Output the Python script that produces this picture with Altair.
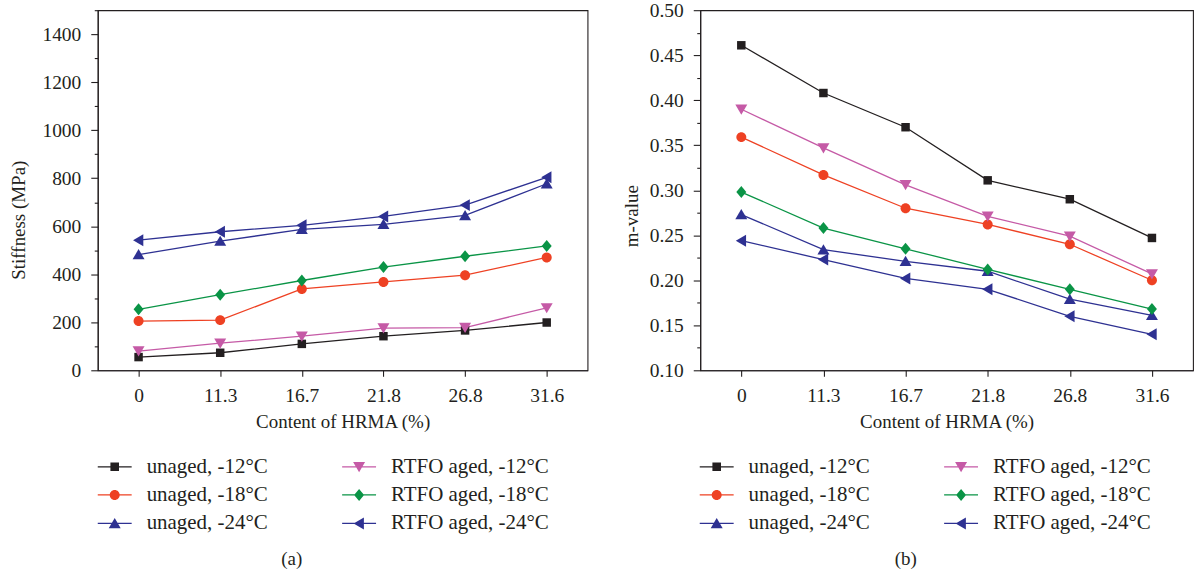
import altair as alt
import pandas as pd

hrma = ["0", "11.3", "16.7", "21.8", "26.8", "31.6"]
series = ["unaged, -12°C", "unaged, -18°C", "unaged, -24°C",
          "RTFO aged, -12°C", "RTFO aged, -18°C", "RTFO aged, -24°C"]
colors = ["#231f20", "#ee4123", "#2e3192", "#c55aa6", "#0a9446", "#2e3192"]

# Stiffness (MPa)
stiff_unaged_12 = [55, 73, 110, 142, 166, 199]
stiff_unaged_18 = [205, 209, 339, 368, 396, 470]
stiff_unaged_24 = [482, 538, 587, 608, 645, 777]
stiff_rtfo_12 = [80, 113, 142, 176, 178, 260]
stiff_rtfo_18 = [254, 315, 374, 430, 475, 518]
stiff_rtfo_24 = [542, 577, 604, 641, 688, 804]

# m-value
m_unaged_12 = [0.461, 0.408, 0.370, 0.311, 0.290, 0.247]
m_unaged_18 = [0.359, 0.317, 0.280, 0.262, 0.240, 0.200]
m_unaged_24 = [0.273, 0.234, 0.221, 0.210, 0.179, 0.161]
m_rtfo_12 = [0.390, 0.347, 0.306, 0.271, 0.249, 0.207]
m_rtfo_18 = [0.298, 0.258, 0.235, 0.212, 0.190, 0.168]
m_rtfo_24 = [0.244, 0.223, 0.202, 0.190, 0.160, 0.140]

stiff_major = [0, 200, 400, 600, 800, 1000, 1200, 1400]
stiff_minor = [100, 300, 500, 700, 900, 1100, 1300, 1500]
m_major = [0.10, 0.15, 0.20, 0.25, 0.30, 0.35, 0.40, 0.45, 0.50]
m_minor = [0.125, 0.175, 0.225, 0.275, 0.325, 0.375, 0.425, 0.475]

# marker shapes (unit paths) for the plotted points
point_shapes = [
    "M-0.85,-0.85H0.85V0.85H-0.85Z",           # square
    "M-1,0A1,1 0 1,1 1,0A1,1 0 1,1 -1,0Z",     # circle
    "M0,-1.1L1.2,0.95L-1.2,0.95Z",             # triangle up
    "M0,1.1L-1.2,-0.95L1.2,-0.95Z",            # triangle down
    "M0,-1.2L1.0,0L0,1.2L-1.0,0Z",             # diamond
    "M-1.1,0L0.95,-1.2L0.95,1.2Z",             # triangle left
]
# legend symbols: short line + marker
LINE = "M-1.7,-0.065H1.7V0.065H-1.7Z "
legend_shapes = [
    LINE + "M-0.43,-0.43H0.43V0.43H-0.43Z",
    LINE + "M-0.5,0A0.5,0.5 0 1,1 0.5,0A0.5,0.5 0 1,1 -0.5,0Z",
    LINE + "M0,-0.55L0.6,0.48L-0.6,0.48Z",
    LINE + "M0,0.55L-0.6,-0.48L0.6,-0.48Z",
    LINE + "M0,-0.6L0.5,0L0,0.6L-0.5,0Z",
    LINE + "M-0.55,0L0.48,-0.6L0.48,0.6Z",
]

stiff_vals = [stiff_unaged_12, stiff_unaged_18, stiff_unaged_24,
              stiff_rtfo_12, stiff_rtfo_18, stiff_rtfo_24]
m_vals = [m_unaged_12, m_unaged_18, m_unaged_24, m_rtfo_12, m_rtfo_18, m_rtfo_24]

rows = []
for s, sv, mv in zip(series, stiff_vals, m_vals):
    for h, a, b in zip(hrma, sv, mv):
        rows.append({"hrma": h, "series": s, "stiffness": a, "mvalue": b})
df = pd.DataFrame(rows)

FONT = "Liberation Serif"
INK = "#231f20"


def panel(field, ytitle, domain, major, minor, fmt, title_pad, title_y,
          width, tag, tag_dx, legend_x):
    x = alt.X("hrma:N", sort=hrma, scale=alt.Scale(domain=hrma),
              axis=alt.Axis(title="Content of HRMA (%)", labelAngle=0,
                            tickSize=6, labelPadding=10, titlePadding=8,
                            labelFont=FONT, labelFontSize=19.5,
                            labelColor=INK))
    yscale = alt.Scale(domain=domain, nice=False, zero=False)
    cscale = alt.Scale(domain=series, range=colors)

    lines = alt.Chart(df).mark_line(strokeWidth=1.3).encode(
        x=x,
        y=alt.Y(f"{field}:Q", scale=yscale,
                axis=alt.Axis(values=major, format=fmt, tickSize=7,
                              labelPadding=10, title=ytitle,
                              titlePadding=title_pad, titleY=title_y,
                              orient="left", labelFont=FONT,
                              labelFontSize=19.5, labelColor=INK)),
        color=alt.Color("series:N", scale=cscale, legend=None),
    )
    points = alt.Chart(df).mark_point(filled=True, opacity=1, size=100).encode(
        x=x,
        y=alt.Y(f"{field}:Q", scale=yscale,
                axis=alt.Axis(values=minor, labels=False, tickSize=3.5,
                              domain=False, title=None, orient="left")),
        color=alt.Color("series:N", scale=cscale, legend=None),
        shape=alt.Shape("series:N",
                        scale=alt.Scale(domain=series, range=point_shapes),
                        legend=None),
    )
    leg = alt.Legend(orient="none", legendX=legend_x, legendY=447,
                     columns=2, columnPadding=73, rowPadding=6.5,
                     symbolSize=400, symbolStrokeWidth=0, labelOffset=21.5,
                     symbolOpacity=1, padding=0, title=None, labelLimit=0,
                     labelFont=FONT, labelFontSize=21, labelColor=INK)
    legend_layer = alt.Chart(df).mark_point(filled=True, size=0,
                                            opacity=1).encode(
        x=x,
        y=alt.Y(f"{field}:Q", scale=yscale, axis=None),
        color=alt.Color("series:N", scale=cscale, legend=leg),
        shape=alt.Shape("series:N",
                        scale=alt.Scale(domain=series, range=legend_shapes),
                        legend=leg),
    )
    return alt.layer(lines, points, legend_layer).resolve_scale(
        color="independent", shape="independent"
    ).resolve_axis(y="independent").properties(
        width=width, height=361,
        title=alt.TitleParams(tag, orient="bottom", anchor="middle",
                              offset=16, dx=tag_dx, font=FONT, fontSize=19,
                              fontWeight="normal", color=INK),
    )


pa = panel("stiffness", "Stiffness (MPa)", [0, 1500], stiff_major,
           stiff_minor, "d", 13, 210, 491, "(a)", -51, 6.5)
pb = panel("mvalue", "m-value", [0.10, 0.50], m_major, m_minor, ".2f",
           8, 206, 494, "(b)", -41, 6)

chart = alt.hconcat(pa, pb, spacing=33).properties(
    padding={"left": 9, "top": -1.5, "right": 0, "bottom": 0}
).configure_axis(
    labelFont=FONT, labelFontSize=19.5, labelColor=INK,
    titleFont=FONT, titleFontSize=19, titleFontWeight="normal",
    titleColor=INK, domainColor=INK, tickColor=INK, domainWidth=1.1,
    tickWidth=1.1, grid=False,
).configure_view(stroke=INK, strokeWidth=1.1)

chart.save("out.html", embed_options={"renderer": "svg", "actions": False})
